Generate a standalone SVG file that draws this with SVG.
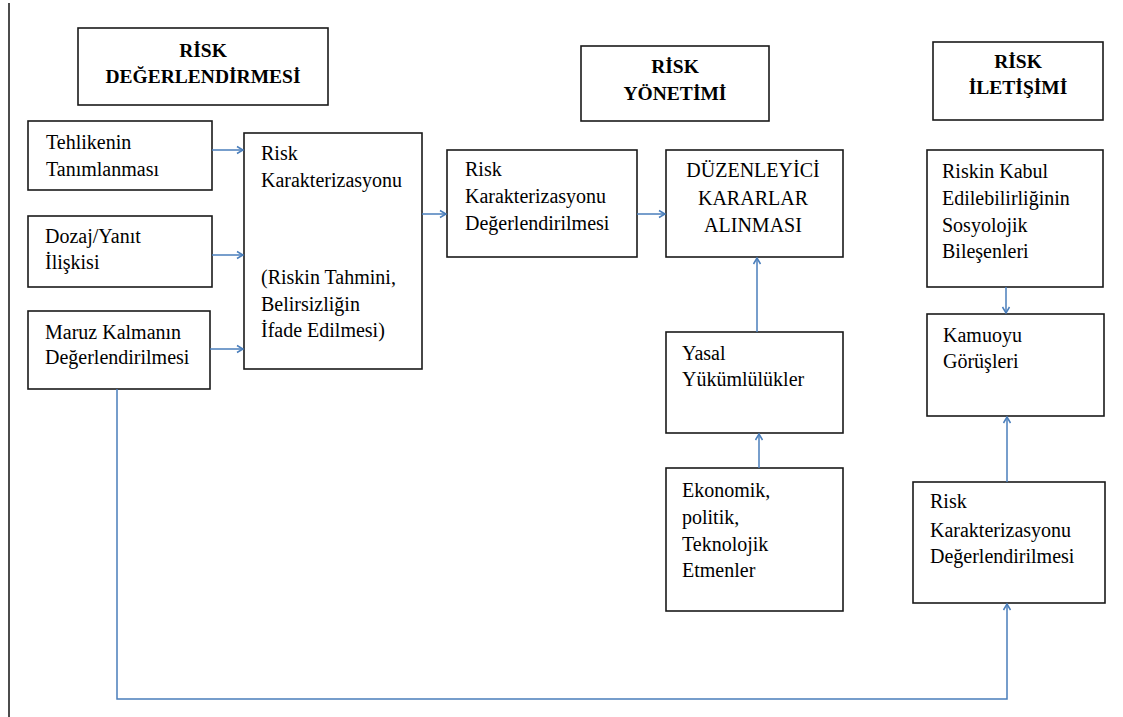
<svg xmlns="http://www.w3.org/2000/svg" width="1123" height="717" viewBox="0 0 1123 717">
<defs>
<marker id="arr" markerWidth="10" markerHeight="10" refX="8" refY="5" orient="auto" markerUnits="userSpaceOnUse">
<path d="M2,1.5 L8,5 L2,8.5" fill="none" stroke="#4a7ebb" stroke-width="1.5"/>
</marker>
</defs>
<rect width="1123" height="717" fill="#fff"/>
<line x1="9" y1="3" x2="9" y2="717" stroke="#111" stroke-width="1.5"/>

<g id="title-degerlendirme">
<rect fill="#fff" stroke="#1a1a1a" stroke-width="1.6" x="78" y="28" width="250" height="77"/>
<text font-family="Liberation Serif" font-size="19.5" font-weight="bold" text-anchor="middle" x="203" y="57">RİSK</text>
<text font-family="Liberation Serif" font-size="19.5" font-weight="bold" text-anchor="middle" x="203" y="83">DEĞERLENDİRMESİ</text>
</g>
<g id="title-yonetim">
<rect fill="#fff" stroke="#1a1a1a" stroke-width="1.6" x="581" y="46" width="188" height="75"/>
<text font-family="Liberation Serif" font-size="19.5" font-weight="bold" text-anchor="middle" x="675" y="73">RİSK</text>
<text font-family="Liberation Serif" font-size="19.5" font-weight="bold" text-anchor="middle" x="675" y="100">YÖNETİMİ</text>
</g>
<g id="title-iletisim">
<rect fill="#fff" stroke="#1a1a1a" stroke-width="1.6" x="933" y="42" width="170" height="78"/>
<text font-family="Liberation Serif" font-size="19.5" font-weight="bold" text-anchor="middle" x="1018" y="68">RİSK</text>
<text font-family="Liberation Serif" font-size="19.5" font-weight="bold" text-anchor="middle" x="1018" y="94">İLETİŞİMİ</text>
</g>

<g id="tehlike">
<rect fill="#fff" stroke="#1a1a1a" stroke-width="1.6" x="28" y="121" width="184" height="69"/>
<text font-family="Liberation Serif" font-size="20" x="46" y="149">Tehlikenin</text>
<text font-family="Liberation Serif" font-size="20" x="46" y="176">Tanımlanması</text>
</g>
<g id="dozaj">
<rect fill="#fff" stroke="#1a1a1a" stroke-width="1.6" x="28" y="216" width="184" height="71"/>
<text font-family="Liberation Serif" font-size="20" x="45" y="243">Dozaj/Yanıt</text>
<text font-family="Liberation Serif" font-size="20" x="45" y="269">İlişkisi</text>
</g>
<g id="maruz">
<rect fill="#fff" stroke="#1a1a1a" stroke-width="1.6" x="28" y="311" width="182" height="78"/>
<text font-family="Liberation Serif" font-size="20" x="45" y="339">Maruz Kalmanın</text>
<text font-family="Liberation Serif" font-size="20" x="45" y="364">Değerlendirilmesi</text>
</g>
<g id="karakterizasyon">
<rect fill="#fff" stroke="#1a1a1a" stroke-width="1.6" x="244" y="133" width="178" height="236"/>
<text font-family="Liberation Serif" font-size="20" x="261" y="160">Risk</text>
<text font-family="Liberation Serif" font-size="20" x="261" y="187">Karakterizasyonu</text>
<text font-family="Liberation Serif" font-size="20" x="261" y="284">(Riskin Tahmini,</text>
<text font-family="Liberation Serif" font-size="20" x="261" y="311">Belirsizliğin</text>
<text font-family="Liberation Serif" font-size="20" x="261" y="337">İfade Edilmesi)</text>
</g>
<g id="kar-deg-mid">
<rect fill="#fff" stroke="#1a1a1a" stroke-width="1.6" x="447" y="150" width="190" height="107"/>
<text font-family="Liberation Serif" font-size="20" x="465" y="176">Risk</text>
<text font-family="Liberation Serif" font-size="20" x="465" y="203">Karakterizasyonu</text>
<text font-family="Liberation Serif" font-size="20" x="465" y="230">Değerlendirilmesi</text>
</g>
<g id="duzenleyici">
<rect fill="#fff" stroke="#1a1a1a" stroke-width="1.6" x="666" y="150" width="177" height="107"/>
<text font-family="Liberation Serif" font-size="20" x="753" y="177" text-anchor="middle">DÜZENLEYİCİ</text>
<text font-family="Liberation Serif" font-size="20" x="753" y="205" text-anchor="middle">KARARLAR</text>
<text font-family="Liberation Serif" font-size="20" x="753" y="232" text-anchor="middle">ALINMASI</text>
</g>
<g id="yasal">
<rect fill="#fff" stroke="#1a1a1a" stroke-width="1.6" x="666" y="332" width="177" height="101"/>
<text font-family="Liberation Serif" font-size="20" x="682" y="360">Yasal</text>
<text font-family="Liberation Serif" font-size="20" x="682" y="386">Yükümlülükler</text>
</g>
<g id="ekonomik">
<rect fill="#fff" stroke="#1a1a1a" stroke-width="1.6" x="666" y="468" width="177" height="143"/>
<text font-family="Liberation Serif" font-size="20" x="682" y="497">Ekonomik,</text>
<text font-family="Liberation Serif" font-size="20" x="682" y="524">politik,</text>
<text font-family="Liberation Serif" font-size="20" x="682" y="551">Teknolojik</text>
<text font-family="Liberation Serif" font-size="20" x="682" y="577">Etmenler</text>
</g>
<g id="kabul">
<rect fill="#fff" stroke="#1a1a1a" stroke-width="1.6" x="927" y="150" width="176" height="137"/>
<text font-family="Liberation Serif" font-size="20" x="942" y="178">Riskin Kabul</text>
<text font-family="Liberation Serif" font-size="20" x="942" y="205">Edilebilirliğinin</text>
<text font-family="Liberation Serif" font-size="20" x="942" y="232">Sosyolojik</text>
<text font-family="Liberation Serif" font-size="20" x="942" y="258">Bileşenleri</text>
</g>
<g id="kamuoyu">
<rect fill="#fff" stroke="#1a1a1a" stroke-width="1.6" x="927" y="314" width="177" height="102"/>
<text font-family="Liberation Serif" font-size="20" x="943" y="342">Kamuoyu</text>
<text font-family="Liberation Serif" font-size="20" x="943" y="368">Görüşleri</text>
</g>
<g id="kar-deg-right">
<rect fill="#fff" stroke="#1a1a1a" stroke-width="1.6" x="913" y="482" width="192" height="121"/>
<text font-family="Liberation Serif" font-size="20" x="930" y="508">Risk</text>
<text font-family="Liberation Serif" font-size="20" x="930" y="537">Karakterizasyonu</text>
<text font-family="Liberation Serif" font-size="20" x="930" y="563">Değerlendirilmesi</text>
</g>

<g id="connectors" fill="none" stroke="#4a7ebb" stroke-width="1.5">
<line x1="212" y1="150" x2="243" y2="150" marker-end="url(#arr)"/>
<line x1="212" y1="255" x2="243" y2="255" marker-end="url(#arr)"/>
<line x1="210" y1="349" x2="243" y2="349" marker-end="url(#arr)"/>
<line x1="422" y1="214" x2="446" y2="214" marker-end="url(#arr)"/>
<line x1="637" y1="214" x2="665" y2="214" marker-end="url(#arr)"/>
<line x1="757" y1="332" x2="757" y2="258" marker-end="url(#arr)"/>
<line x1="759" y1="468" x2="759" y2="434" marker-end="url(#arr)"/>
<line x1="1006" y1="287" x2="1006" y2="313" marker-end="url(#arr)"/>
<line x1="1007" y1="482" x2="1007" y2="417" marker-end="url(#arr)"/>
<polyline points="117,389 117,699 1007,699 1007,604" marker-end="url(#arr)"/>
</g>
</svg>
